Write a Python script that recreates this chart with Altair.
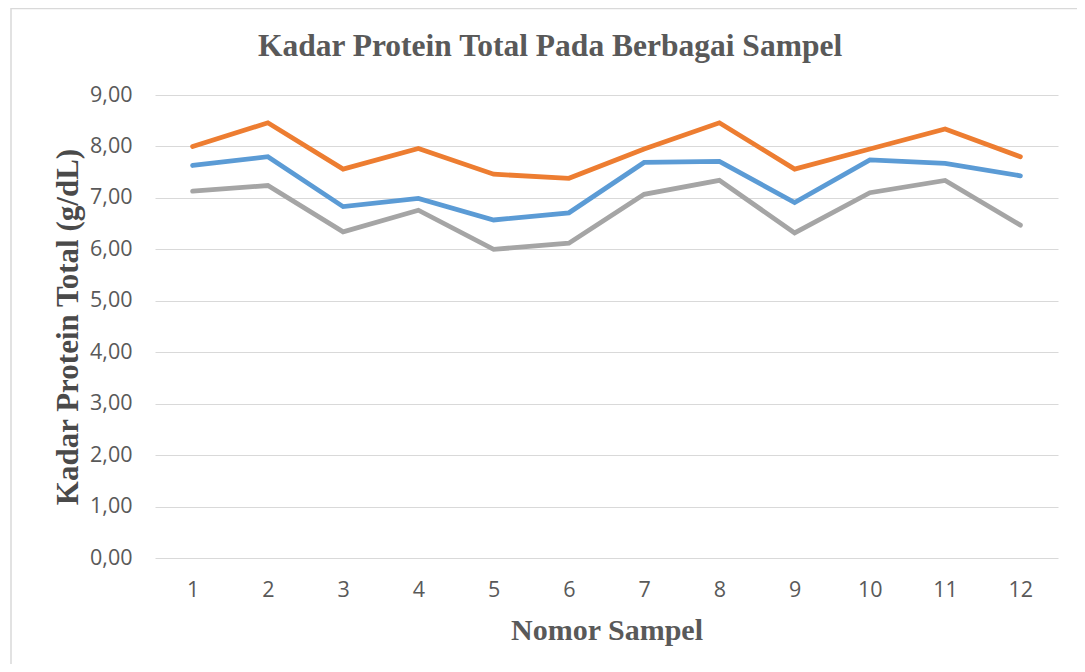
import altair as alt
import pandas as pd

sampel = [1, 2, 3, 4, 5, 6, 7, 8, 9, 10, 11, 12]
seri_biru = [7.63, 7.80, 6.83, 6.99, 6.57, 6.71, 7.69, 7.71, 6.91, 7.74, 7.67, 7.43]
seri_oranye = [8.00, 8.46, 7.56, 7.96, 7.46, 7.38, 7.95, 8.46, 7.56, 7.95, 8.34, 7.80]
seri_abu = [7.13, 7.24, 6.34, 6.76, 6.00, 6.12, 7.07, 7.34, 6.32, 7.10, 7.34, 6.47]
nama_seri = ["Seri 1", "Seri 2", "Seri 3"]
warna = ["#5B9BD5", "#ED7D31", "#A5A5A5"]

rows = []
for nama, vals in zip(nama_seri, [seri_biru, seri_oranye, seri_abu]):
    for s, v in zip(sampel, vals):
        rows.append({"Sampel": s, "Nilai": v, "Seri": nama})
df = pd.DataFrame(rows)

W, H = 903, 463

lines = alt.Chart(df).mark_line(strokeWidth=4.8, strokeCap="round").encode(
    x=alt.X("Sampel:O", sort=sampel,
            scale=alt.Scale(type="point", padding=0.5),
            axis=alt.Axis(title="Nomor Sampel", labelAngle=0, ticks=False, domain=False,
                          grid=False, labelFont="Open Sans", labelFontSize=21.5,
                          labelColor="#595959", labelPadding=21,
                          titleFont="Liberation Serif", titleFontWeight="bold",
                          titleFontSize=30, titleColor="#595959",
                          titleBaseline="alphabetic", titleY=81)),
    y=alt.Y("Nilai:Q", scale=alt.Scale(domain=[0, 9], nice=False),
            axis=alt.Axis(title="Kadar Protein Total (g/dL)", values=list(range(0, 10)),
                          labelExpr="replace(format(datum.value, '.2f'), '.', ',')",
                          ticks=False, domain=False, grid=True, gridColor="#D9D9D9",
                          gridWidth=1.2, labelFont="Open Sans", labelFontSize=21.5,
                          labelColor="#595959", labelPadding=23,
                          titleFont="Liberation Serif", titleFontWeight="bold",
                          titleFontSize=31, titleColor="#4A4A4A",
                          titleBaseline="alphabetic", titleAlign="center",
                          titleAngle=-90, titleX=-78, titleY=231.5)),
    color=alt.Color("Seri:N", scale=alt.Scale(domain=nama_seri, range=warna), legend=None),
    order=alt.Order("Sampel:Q"),
)

border = alt.Chart(alt.Data(values=[{"a": 1}])).mark_rect(
    fill=None, stroke="#D9D9D9", strokeWidth=1.5, clip=False
).encode(
    x=alt.value(-144), x2=alt.value(960), y=alt.value(-86.5), y2=alt.value(620)
)

chart = alt.layer(border, lines).properties(
    width=W, height=H,
    title=alt.TitleParams("Kadar Protein Total Pada Berbagai Sampel",
                          font="Liberation Serif", fontWeight="bold", fontSize=31.5,
                          color="#595959", anchor="middle", frame="group",
                          baseline="bottom", offset=-87, dx=-56.5),
    autosize=alt.AutoSizeParams(type="none"),
    padding={"left": 147, "top": 87, "right": 19, "bottom": 106},
).configure(background="white").configure_view(stroke=None)

chart.save("out.html", embed_options={"renderer": "svg", "actions": False})
